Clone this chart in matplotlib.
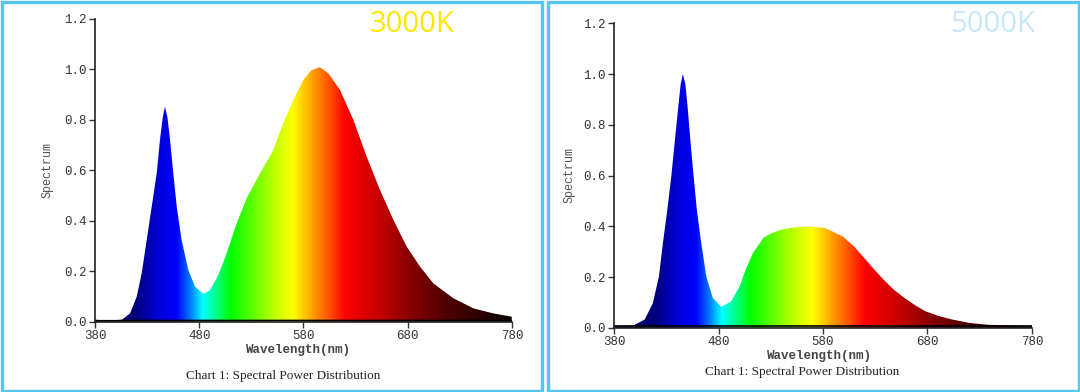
import numpy as np
import matplotlib
matplotlib.use("Agg")
import matplotlib.pyplot as plt
from matplotlib.colors import LinearSegmentedColormap
from matplotlib.patches import Rectangle

# spectral power distribution
wl_3000 = [380, 384, 400, 405.6, 413.6, 420, 424.8, 429.6, 434.4, 439.2, 442.3, 445, 447.1,
           449.5, 452, 455.1, 458.4, 463.1, 469.5, 475.9, 483.9, 490, 497, 503, 509.5,
           515, 525.5, 538.3, 551, 560.6, 570.2, 579.8, 587.8, 595.8, 603.8, 615, 627.8,
           640.6, 653.4, 666.2, 679, 691.8, 704.5, 723.7, 742.9, 762, 779.7]
spd_3000 = [0.01, 0.005, 0.005, 0.008, 0.034, 0.1, 0.193, 0.324, 0.456, 0.588, 0.72, 0.81,
            0.852, 0.81, 0.72, 0.588, 0.456, 0.324, 0.206, 0.14, 0.111, 0.125, 0.175, 0.235,
            0.31, 0.38, 0.49, 0.588, 0.68, 0.786, 0.878, 0.957, 0.997, 1.008, 0.984, 0.918,
            0.8, 0.654, 0.522, 0.404, 0.298, 0.219, 0.153, 0.094, 0.054, 0.034, 0.021]

wl_5000 = [380, 398, 409.3, 417.2, 423, 426.8, 431, 434.8, 438, 441.2, 443.8, 445.9, 448.3,
           450.7, 453.3, 456.2, 459.3, 463.5, 468.3, 474.6, 482.7, 492.2, 500.2, 506, 513,
           523, 530, 539.5, 550, 566, 582, 599, 610, 618.5, 628, 638, 648, 658, 668, 678,
           690, 704, 720, 737, 780]
spd_5000 = [0.007, 0.009, 0.033, 0.098, 0.203, 0.334, 0.465, 0.596, 0.728, 0.859, 0.96, 1.0,
            0.96, 0.859, 0.728, 0.596, 0.465, 0.334, 0.203, 0.118, 0.083, 0.105, 0.164, 0.23,
            0.295, 0.355, 0.372, 0.387, 0.395, 0.40, 0.394, 0.36, 0.32, 0.28, 0.235, 0.19,
            0.15, 0.118, 0.09, 0.066, 0.048, 0.033, 0.02, 0.013, 0.007]

x_ticks = [380, 480, 580, 680, 780]
y_ticks = [0.0, 0.2, 0.4, 0.6, 0.8, 1.0, 1.2]

# wavelength -> colour stops for the rainbow fill
stops = [(380, (0.05, 0.0, 0.30)), (420, (0.0, 0.0, 0.50)), (440, (0.0, 0.0, 0.85)),
         (458, (0.0, 0.0, 1.0)), (470, (0.0, 0.45, 1.0)), (483, (0.0, 1.0, 1.0)),
         (497, (0.0, 1.0, 0.5)), (510, (0.0, 1.0, 0.0)), (530, (0.35, 1.0, 0.0)),
         (552, (0.75, 1.0, 0.0)), (570, (1.0, 1.0, 0.0)), (590, (1.0, 0.6, 0.0)),
         (606, (1.0, 0.3, 0.0)), (620, (1.0, 0.0, 0.0)), (650, (0.8, 0.0, 0.0)),
         (680, (0.55, 0.0, 0.0)), (720, (0.3, 0.0, 0.0)), (780, (0.05, 0.0, 0.0))]
cmap = LinearSegmentedColormap.from_list(
    "spec", [((w - 380) / 400, c) for w, c in stops])

W, H = 1080, 392
fig = plt.figure(figsize=(W / 100, H / 100), dpi=100)
fig.patch.set_facecolor("white")

border = "#55C6F2"
for x0, x1 in [(0, 543), (546, 1080)]:
    fig.patches.append(Rectangle((x0 / W + 1.5 / W, 1.5 / H), (x1 - x0 - 3) / W, (H - 3) / H,
                                 transform=fig.transFigure, fill=False,
                                 edgecolor=border, linewidth=2.4))

panels = [
    dict(wl=wl_3000, spd=spd_3000, box=(95, 512, 18.7, 322), name="3000K", ncol="#FFE600",
         npos=(412, 24), ylab=(48, 170), xlab=(298, 350), title=(283, 376)),
    dict(wl=wl_5000, spd=spd_5000, box=(614, 1032, 23.3, 328), name="5000K", ncol="#C8E7F6",
         npos=(993, 24), ylab=(569, 175), xlab=(819, 356), title=(802, 372)),
]

grad = np.linspace(380, 780, 1000).reshape(1, -1)

for p in panels:
    x0, x1, yt, yb = p["box"]
    ax = fig.add_axes([x0 / W, 1 - yb / H, (x1 - x0) / W, (yb - yt) / H])
    ax.set_xlim(380, 780)
    ax.set_ylim(0, 1.2)
    poly = ax.fill_between(p["wl"], p["spd"], 0, color="none", linewidth=0)
    img = ax.imshow(grad, extent=[380, 780, 0, 1.2], aspect="auto", cmap=cmap,
                    vmin=380, vmax=780, origin="lower", interpolation="bilinear")
    img.set_clip_path(poly.get_paths()[0], transform=ax.transData)
    ax.plot(p["wl"], np.minimum(p["spd"], 0.006), color="black", lw=1.2)
    for s in ["top", "right"]:
        ax.spines[s].set_visible(False)
    for s in ["left", "bottom"]:
        ax.spines[s].set_color("#222222")
        ax.spines[s].set_linewidth(1.2)
    ax.set_xticks(x_ticks)
    ax.set_yticks(y_ticks)
    ax.set_yticklabels([f"{v:.1f}" for v in y_ticks])
    ax.tick_params(direction="out", length=4, width=1, colors="#333333",
                   labelsize=9, pad=2)
    for t in ax.get_xticklabels() + ax.get_yticklabels():
        t.set_family("Liberation Mono")
    fig.text(p["ylab"][0] / W, 1 - p["ylab"][1] / H, "Spectrum", rotation=90,
             family="Liberation Mono", fontsize=8.5, color="#555555",
             ha="center", va="center")
    fig.text(p["xlab"][0] / W, 1 - p["xlab"][1] / H, "Wavelength(nm)",
             family="Liberation Mono", fontsize=9, weight="bold", color="#444444",
             ha="center", va="center")
    fig.text(p["title"][0] / W, 1 - p["title"][1] / H, "Chart 1: Spectral Power Distribution",
             family="Liberation Serif", fontsize=9.5, color="#222222",
             ha="center", va="center")
    fig.text(p["npos"][0] / W, 1 - p["npos"][1] / H, p["name"], family="Open Sans",
             fontsize=21, color=p["ncol"], ha="center", va="center")

fig.savefig("out.png", dpi=100, facecolor="white")
